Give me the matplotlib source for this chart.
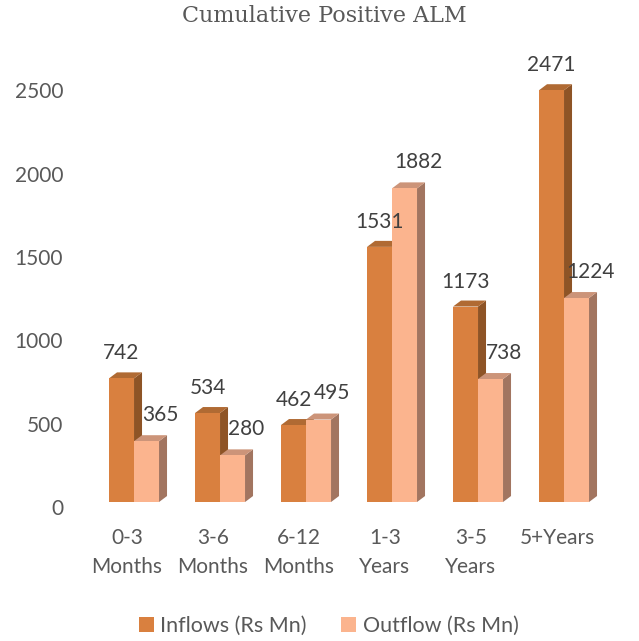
import matplotlib
matplotlib.use("Agg")
import matplotlib.pyplot as plt
from matplotlib.patches import Polygon, Patch
from matplotlib.transforms import ScaledTranslation

categories = ["0-3\nMonths", "3-6\nMonths", "6-12\nMonths", "1-3\nYears", "3-5\nYears", "5+Years"]
inflows = [742, 534, 462, 1531, 1173, 2471]
outflows = [365, 280, 495, 1882, 738, 1224]
series_names = ["Inflows (Rs Mn)", "Outflow (Rs Mn)"]
yticks = [0, 500, 1000, 1500, 2000, 2500]

FONT = ["Lato", "DejaVu Sans"]
plt.rcParams["font.family"] = FONT

fig = plt.figure(figsize=(6.39, 6.41), dpi=100)
ax = fig.add_axes([0.1315, 0.2168, 0.8075, 0.702])
ax.set_xlim(-0.5, 5.5)
ax.set_ylim(0, 2700)
for s in ax.spines.values():
    s.set_visible(False)

colors = {
    "in": ("#D9803F", "#8E5426", "#B06A33"),
    "out": ("#FBB48E", "#A27560", "#CC9479"),
}

pxx = ax.bbox.width / 6.0
pxy = ax.bbox.height / 2700.0
dx = 8 / pxx
dy = 6 / pxy
w = 25 / pxx
start = -18 / pxx

def bar3d(x0, h, cols):
    front, side, top = cols
    ax.bar(x0, h, width=w, align="edge", color=front, zorder=3, linewidth=0)
    ax.add_patch(Polygon([(x0 + w, 0), (x0 + w + dx, dy), (x0 + w + dx, h + dy), (x0 + w, h)],
                         closed=True, facecolor=side, edgecolor="none", zorder=2))
    ax.add_patch(Polygon([(x0, h), (x0 + dx, h + dy), (x0 + w + dx, h + dy), (x0 + w, h)],
                         closed=True, facecolor=top, edgecolor="none", zorder=2))

label_color = "#404040"
FS = 15
for i, (a, b) in enumerate(zip(inflows, outflows)):
    x_in = i + start
    x_out = x_in + w
    bar3d(x_in, a, colors["in"])
    bar3d(x_out, b, colors["out"])
    ax.annotate(str(a), (x_in + w / 2, a), xytext=(0, 18), textcoords="offset points",
                ha="center", va="center", fontsize=FS, color=label_color)
    ax.annotate(str(b), (x_out + w / 2, b), xytext=(10, 19), textcoords="offset points",
                ha="center", va="center", fontsize=FS, color=label_color)

ax.set_xticks(range(len(categories)))
ax.set_xticklabels(categories, fontsize=FS, color="#595959", linespacing=1.55)
ax.set_yticks(yticks)
ax.set_yticklabels([str(t) for t in yticks], fontsize=FS, color="#595959")
ax.tick_params(axis="both", length=0)
ax.tick_params(axis="x", pad=19)
ax.tick_params(axis="y", pad=15)
for lab in ax.get_yticklabels():
    lab.set_transform(lab.get_transform() + ScaledTranslation(0, -5 / 100, fig.dpi_scale_trans))

fig.text(0.508, 0.975, "Cumulative Positive ALM", ha="center", va="center",
         fontsize=16, color="#595959", family=["DejaVu Serif"])

handles = [Patch(facecolor=colors["in"][0]), Patch(facecolor=colors["out"][0])]
fig.legend(handles, series_names, loc="center", bbox_to_anchor=(0.514, 0.023), ncol=2,
           frameon=False, fontsize=15.5, handlelength=0.7, handleheight=0.7,
           handletextpad=0.3, columnspacing=1.6, labelcolor="#595959")

fig.savefig("out.png", dpi=100)
